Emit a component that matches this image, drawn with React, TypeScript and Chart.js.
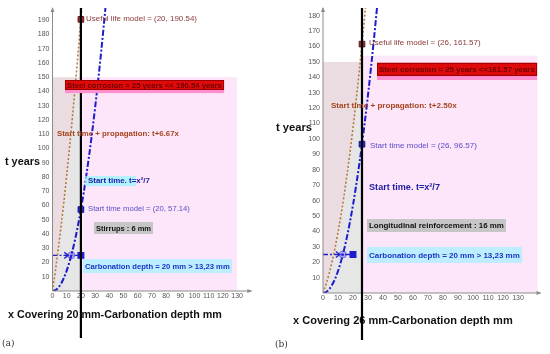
import React, { useEffect, useRef } from "react";
import { Chart, registerables } from "chart.js";

Chart.register(...registerables);

const FF = "Arial, 'Liberation Sans', Helvetica, sans-serif";

// ---- data ----
const xSamples = [0, 2, 4, 6, 8, 10, 12, 14, 16, 18, 20, 22, 24, 26, 28, 30, 32, 34, 36, 38, 40];
const startTimeYears = [0, 0.57, 2.29, 5.14, 9.14, 14.29, 20.57, 28, 36.57, 46.29, 57.14, 69.14, 82.29, 96.57, 112, 128.57, 146.29, 165.14, 185.14, 206.29, 228.57];
const usefulLifeA = [0, 13.91, 28.97, 45.16, 62.5, 80.99, 100.61, 121.38, 143.29, 166.35, 190.54, 215.88];
const usefulLifeB = [0, 5.57, 12.29, 20.14, 29.14, 39.29, 50.57, 63, 76.57, 91.29, 107.14, 124.14, 142.29, 161.57, 182, 203.57];
const coverA = 20;
const coverB = 26;
const usefulAtCoverA = 190.54;
const usefulAtCoverB = 161.57;
const startAtCoverA = 57.14;
const startAtCoverB = 96.57;
const corrosionYears = 25;
const carbonationDepth = 20;
const carbonationAt25 = 13.23;
const limitYears = 150;

type Box = { x1: number; x2: number; t1: number; t2: number };
type Lbl = { x1: number; x2: number; t: number };

const panelA = {
  cover: coverA, useful: usefulLifeA, usefulAt: usefulAtCoverA, startAt: startAtCoverA,
  xMax: 140, yMax: 198.5, chartLeft: 52.5, chartTop: 8, chartBottom: 291, padRight: 23.7,
  pinkRight: 130, pinkTop: 150, lineBottom: 338,
  usefulText: "Useful life model = (20, 190.54)", usefulPos: { x1: 23.6, x2: 101.8, t: 190.7 } as Lbl,
  steelText: "Steel corrosion = 25 years << 190.54 years", steelBox: { x1: 8.8, x2: 120.8, t1: 148, t2: 141 } as Box, stripT: 138.8,
  propText: "Start time + propagation: t+6.67x", propPos: { x1: 3.2, x2: 89.1, t: 110.1 } as Lbl,
  startText: "Start time. t=x\u00b2/7", startPos: { x1: 25, x2: 68.7, t: 77.1 } as Lbl,
  startHighlight: { x1: 22.9, x2: 58.8, t1: 80.6, t2: 73.6 } as Box | null,
  modelText: "Start time model = (20, 57.14)", modelPos: { x1: 25, x2: 96.8, t: 57.5 } as Lbl,
  reinfText: "Stirrups : 6 mm", reinfBox: { x1: 29.2, x2: 70.8, t1: 48.4, t2: 40 } as Box,
  carbText: "Carbonation depth = 20 mm > 13,23 mm", carbBox: { x1: 21.5, x2: 126.4, t1: 22.4, t2: 12.6 } as Box,
  yTitle: { x1: 5, x2: 40, y: 162 },
  xTitleText: "x Covering 20 mm-Carbonation depth mm", xTitle: { x1: 8, x2: 222, y: 315 },
  tag: "(a)", tagPos: { x: 2, y: 344 },
};

const panelB = {
  cover: coverB, useful: usefulLifeB, usefulAt: usefulAtCoverB, startAt: startAtCoverB,
  xMax: 145, yMax: 185, chartLeft: 48, chartTop: 8, chartBottom: 293, padRight: 9.5,
  pinkRight: 143, pinkTop: 154, lineBottom: 340,
  usefulText: "Useful life model = (26, 161.57)", usefulPos: { x1: 30.7, x2: 105.3, t: 162.3 } as Lbl,
  steelText: "Steel corrosion = 25 years <<161.57 years", steelBox: { x1: 36, x2: 142.7, t1: 149.4, t2: 140.9 } as Box, stripT: 138.3,
  propText: "Start time + propagation: t+2.50x", propPos: { x1: 5.3, x2: 89.3, t: 121.4 } as Lbl,
  startText: "Start time. t=x\u00b2/7", startPos: { x1: 30.7, x2: 78, t: 68.8 } as Lbl,
  startHighlight: null as Box | null,
  modelText: "Start time model = (26, 96.57)", modelPos: { x1: 31.3, x2: 102.7, t: 95.5 } as Lbl,
  reinfText: "Longitudinal reinforcement : 16 mm", reinfBox: { x1: 29.3, x2: 122, t1: 48, t2: 39.6 } as Box,
  carbText: "Carbonation depth = 20 mm > 13,23 mm", carbBox: { x1: 29.3, x2: 132.7, t1: 29.9, t2: 19.5 } as Box,
  yTitle: { x1: 1, x2: 37, y: 128 },
  xTitleText: "x Covering 26 mm-Carbonation depth mm", xTitle: { x1: 18, x2: 238, y: 321 },
  tag: "(b)", tagPos: { x: 0, y: 345 },
};

type Panel = typeof panelA;

function fitText(ctx: CanvasRenderingContext2D, text: string, x1: number, x2: number, y: number, weight: string, color: string, family = FF) {
  ctx.font = `${weight} 20px ${family}`;
  const w = ctx.measureText(text).width;
  const size = (20 * (x2 - x1)) / w;
  ctx.font = `${weight} ${size}px ${family}`;
  ctx.fillStyle = color;
  ctx.textAlign = "left";
  ctx.textBaseline = "middle";
  ctx.fillText(text, x1, y);
}

function makePlugin(p: Panel) {
  return {
    id: "annot",
    beforeDraw(chart: any) {
      const { ctx, scales } = chart;
      const X = (v: number) => scales.x.getPixelForValue(v);
      const Y = (v: number) => scales.y.getPixelForValue(v);
      ctx.save();
      ctx.fillStyle = "#fde5fa";
      ctx.fillRect(X(p.cover), Y(p.pinkTop), X(p.pinkRight) - X(p.cover), Y(0) - Y(p.pinkTop));
      ctx.fillStyle = "#e6e6e6";
      const gx = X(0), gy = Y(limitYears), gw = X(p.cover) - X(0), gh = Y(0) - Y(limitYears);
      ctx.fillRect(gx, gy, gw, gh);
      ctx.beginPath();
      ctx.rect(gx, gy, gw, gh);
      ctx.clip();
      ctx.beginPath();
      ctx.moveTo(X(0), Y(0));
      p.useful.forEach((t, i) => ctx.lineTo(X(xSamples[i]), Y(t)));
      ctx.lineTo(X(0), Y(p.useful[p.useful.length - 1]));
      ctx.closePath();
      ctx.fillStyle = "rgba(255,170,190,0.16)";
      ctx.fill();
      ctx.restore();
    },
    afterDatasetsDraw(chart: any) {
      const { ctx, scales, chartArea } = chart;
      const X = (v: number) => scales.x.getPixelForValue(v);
      const Y = (v: number) => scales.y.getPixelForValue(v);
      ctx.save();
      // axis lines + arrows
      ctx.strokeStyle = "#8c8c8c";
      ctx.fillStyle = "#8c8c8c";
      ctx.lineWidth = 1;
      ctx.beginPath();
      ctx.moveTo(chartArea.left, chartArea.bottom);
      ctx.lineTo(chartArea.left, chartArea.top);
      ctx.moveTo(chartArea.left, chartArea.bottom);
      ctx.lineTo(chartArea.right, chartArea.bottom);
      ctx.stroke();
      ctx.beginPath();
      ctx.moveTo(chartArea.left, chartArea.top - 1);
      ctx.lineTo(chartArea.left - 2, chartArea.top + 4);
      ctx.lineTo(chartArea.left + 2, chartArea.top + 4);
      ctx.closePath();
      ctx.fill();
      ctx.beginPath();
      ctx.moveTo(chartArea.right + 1, chartArea.bottom);
      ctx.lineTo(chartArea.right - 4, chartArea.bottom - 2);
      ctx.lineTo(chartArea.right - 4, chartArea.bottom + 2);
      ctx.closePath();
      ctx.fill();

      // carbonation arrow head
      const ax = X(carbonationAt25) - 3, ay = Y(corrosionYears);
      ctx.strokeStyle = "#2020cc";
      ctx.lineWidth = 1.3;
      ctx.beginPath();
      ctx.moveTo(ax - 4, ay - 3);
      ctx.lineTo(ax, ay);
      ctx.lineTo(ax - 4, ay + 3);
      ctx.stroke();

      // titles
      fitText(ctx, p.xTitleText, p.xTitle.x1, p.xTitle.x2, p.xTitle.y, "bold", "#111");
      fitText(ctx, "t years", p.yTitle.x1, p.yTitle.x2, p.yTitle.y, "bold", "#111");
      ctx.font = `9px 'DejaVu Serif', 'Liberation Serif', serif`;
      ctx.fillStyle = "#333";
      ctx.textAlign = "left";
      ctx.textBaseline = "middle";
      ctx.fillText(p.tag, p.tagPos.x, p.tagPos.y);

      // vertical cover line
      ctx.strokeStyle = "#000";
      ctx.lineWidth = 2.2;
      ctx.beginPath();
      ctx.moveTo(X(p.cover), chartArea.top);
      ctx.lineTo(X(p.cover), p.lineBottom);
      ctx.stroke();

      const drawBox = (b: Box, text: string, fill: string, stroke: string | null, color: string) => {
        const x1 = X(b.x1), x2 = X(b.x2), y1 = Y(b.t1), y2 = Y(b.t2);
        ctx.fillStyle = fill;
        ctx.fillRect(x1, y1, x2 - x1, y2 - y1);
        if (stroke) {
          ctx.strokeStyle = stroke;
          ctx.lineWidth = 1;
          ctx.strokeRect(x1 + 0.5, y1 + 0.5, x2 - x1 - 1, y2 - y1 - 1);
        }
        fitText(ctx, text, x1 + 2, x2 - 2, (y1 + y2) / 2 + 0.5, "bold", color);
      };

      // red steel box with pink strip
      ctx.fillStyle = "#ff8fcf";
      ctx.fillRect(X(p.steelBox.x1), Y(p.steelBox.t2), X(p.steelBox.x2) - X(p.steelBox.x1), Y(p.stripT) - Y(p.steelBox.t2));
      drawBox(p.steelBox, p.steelText, "#e00a0a", "#9a0000", "#6e0000");
      drawBox(p.reinfBox, p.reinfText, "#c6c6c6", null, "#111");
      drawBox(p.carbBox, p.carbText, "#bdeeff", null, "#1a35c4");

      if (p.startHighlight) {
        const h = p.startHighlight;
        ctx.fillStyle = "rgba(150,245,255,0.75)";
        ctx.fillRect(X(h.x1), Y(h.t1), X(h.x2) - X(h.x1), Y(h.t2) - Y(h.t1));
      }

      fitText(ctx, p.usefulText, X(p.usefulPos.x1), X(p.usefulPos.x2), Y(p.usefulPos.t), "normal", "#8b3a3a");
      fitText(ctx, p.propText, X(p.propPos.x1), X(p.propPos.x2), Y(p.propPos.t), "bold", "#a5451f");
      fitText(ctx, p.startText, X(p.startPos.x1), X(p.startPos.x2), Y(p.startPos.t), "bold", "#1c1ca0");
      fitText(ctx, p.modelText, X(p.modelPos.x1), X(p.modelPos.x2), Y(p.modelPos.t), "normal", "#5a4ec8");
      ctx.restore();
    },
  };
}

function PanelChart({ p, left }: { p: Panel; left: number }) {
  const ref = useRef<HTMLCanvasElement>(null);
  useEffect(() => {
    const canvas = ref.current!;
    const pts = (ys: number[]) => ys.map((t, i) => ({ x: xSamples[i], y: t }));
    const chart = new Chart(canvas, {
      type: "line",
      data: {
        datasets: [
          {
            data: pts(p.useful), borderColor: "#b8783e", borderWidth: 1.6, borderDash: [2, 2],
            pointRadius: 0, cubicInterpolationMode: "monotone", fill: false,
          },
          {
            data: pts(startTimeYears), borderColor: "#1c1ccc", borderWidth: 2, borderDash: [6, 2, 2, 2],
            pointRadius: 0, cubicInterpolationMode: "monotone", fill: false,
          },
          {
            data: [{ x: 0, y: corrosionYears }, { x: carbonationDepth, y: corrosionYears }],
            borderColor: "#2020cc", borderWidth: 1.3, borderDash: [5, 2, 2, 2],
            pointRadius: [0, 4], pointStyle: "rect", pointBackgroundColor: "#1c1ccc", pointBorderColor: "#1c1ccc",
          },
          {
            data: [{ x: carbonationAt25, y: corrosionYears }], showLine: false,
            pointRadius: 3.5, pointStyle: "circle", pointBackgroundColor: "#a9a2f2", pointBorderColor: "#8078e0", pointBorderWidth: 1,
          },
          {
            data: [{ x: p.cover, y: p.usefulAt }], showLine: false,
            pointRadius: 4, pointStyle: "rect", pointBackgroundColor: "#8f2f2f", pointBorderColor: "#6a1a1a", pointBorderWidth: 1,
          },
          {
            data: [{ x: p.cover, y: p.startAt }], showLine: false,
            pointRadius: 4, pointStyle: "rect", pointBackgroundColor: "#2a2acc", pointBorderColor: "#15158f", pointBorderWidth: 1,
          },
        ],
      },
      options: {
        animation: false,
        responsive: false,
        devicePixelRatio: 1,
        layout: { padding: { left: 0, right: p.padRight, top: p.chartTop, bottom: 0 } },
        plugins: { legend: { display: false }, tooltip: { enabled: false } },
        scales: {
          x: {
            type: "linear", min: 0, max: p.xMax,
            afterFit: (s: any) => { s.height = 354 - p.chartBottom; },
            grid: { display: false, drawTicks: false },
            border: { display: false },
            ticks: {
              stepSize: 10, includeBounds: false, autoSkip: false, maxRotation: 0, padding: 1,
              font: { size: 7, family: FF }, color: "#555",
              callback: (v: any) => (Number(v) <= 130 ? String(v) : ""),
            },
          },
          y: {
            type: "linear", min: 0, max: p.yMax,
            afterFit: (s: any) => { s.width = p.chartLeft; },
            grid: { display: false, drawTicks: false },
            border: { display: false },
            ticks: {
              stepSize: 10, includeBounds: false, autoSkip: false, padding: 3,
              font: { size: 7, family: FF }, color: "#555",
              callback: (v: any) => (Number(v) === 0 ? "" : String(v)),
            },
          },
        },
      },
      plugins: [makePlugin(p)],
    } as any);
    return () => chart.destroy();
  }, [p]);
  return (
    <canvas
      ref={ref}
      width={275}
      height={354}
      style={{ position: "absolute", left, top: 0, width: 275, height: 354 }}
    />
  );
}

export default function App() {
  return (
    <div style={{ position: "absolute", left: 0, top: 0, width: 550, height: 354, background: "#fff", overflow: "hidden" }}>
      <PanelChart p={panelA} left={0} />
      <PanelChart p={panelB} left={275} />
    </div>
  );
}
